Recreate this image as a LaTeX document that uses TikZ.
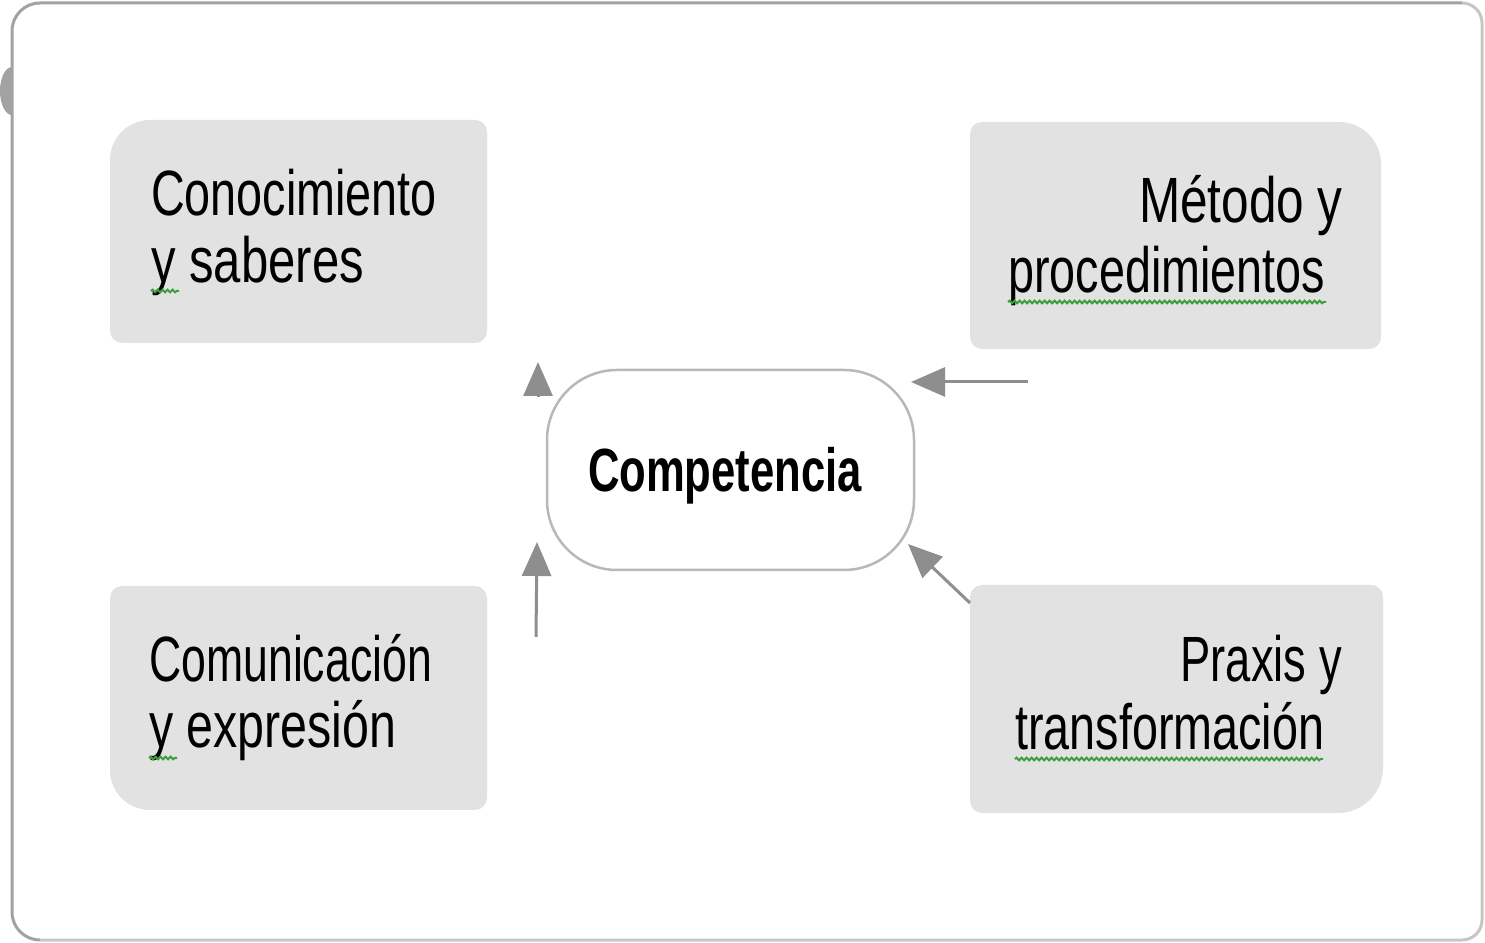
\documentclass[tikz,border=0pt]{standalone}
\usepackage{fontspec}
\setmainfont{Liberation Sans}
\newfontfamily\narrowfont[FakeStretch=0.73]{Liberation Sans}
\newfontfamily\narrowbold[FakeStretch=0.715]{Liberation Sans Bold}
\usetikzlibrary{arrows.meta,decorations.pathmorphing}
\definecolor{boxfill}{HTML}{E2E2E2}
\definecolor{framedark}{HTML}{A2A2A2}
\definecolor{framelight}{HTML}{C6C6C6}
\definecolor{arrowgray}{HTML}{8E8E8E}
\definecolor{centerborder}{HTML}{B8B8B8}
\definecolor{squiggle}{HTML}{3E9E3E}
% #1 x-left, #2 y-bottom, #3 x-right, #4 y-top, #5 rTL, #6 rTR, #7 rBR, #8 rBL
\newcommand\quadboxpath[8]{(#1,#2+#8) -- (#1,#4-#5) arc[start angle=180,end angle=90,radius=#5] -- (#3-#6,#4) arc[start angle=90,end angle=0,radius=#6] -- (#3,#2+#7) arc[start angle=0,end angle=-90,radius=#7] -- (#1+#8,#2) arc[start angle=270,end angle=180,radius=#8] -- cycle}
\tikzset{
  boxlabel/.style={inner sep=0pt,font=\narrowfont\fontsize{64}{70}\selectfont,text=black},
  arrowline/.style={draw=arrowgray,line width=3pt,-{Triangle[length=34pt,width=29pt]}},
  wavy/.style={draw=squiggle,line width=2pt,decorate,decoration={snake,amplitude=1.3pt,segment length=5pt}},
}
\begin{document}
\begin{tikzpicture}[x=1pt,y=1pt]
\useasboundingbox (0,0) rectangle (1485,942);
% outer frame
\draw[framedark,line width=3pt] (40,2) arc[start angle=270,end angle=180,radius=28] -- (12,911) arc[start angle=180,end angle=90,radius=28] -- (1462,939);
\draw[framelight,line width=3pt] (1462,939) arc[start angle=90,end angle=0,radius=20] -- (1482,22) arc[start angle=0,end angle=-90,radius=20] -- (40,2);
\fill[framedark] (12,875) arc[start angle=90,end angle=270,x radius=12,y radius=24] -- cycle;
% four boxes
\fill[boxfill] \quadboxpath{110}{599}{487}{822}{40}{12}{12}{12};
\fill[boxfill] \quadboxpath{970}{593}{1381}{820}{12}{42}{12}{12};
\fill[boxfill] \quadboxpath{110}{132}{487}{356}{12}{12}{12}{40};
\fill[boxfill] \quadboxpath{970}{129}{1383}{357}{12}{12}{45}{12};
% texts
\node[boxlabel,anchor=base west] (conoc1) at (151,726) {Conocimiento};
\node[boxlabel,anchor=base west] (conoc2) at (151,659) {\scalebox{1.05}[1]{y saberes}};
\node[boxlabel,anchor=base east] (metodo1) at (1343,719) {\scalebox{1.06}[1]{Método y}};
\node[boxlabel,anchor=base west] (metodo2) at (1008,649) {procedimientos};
\node[boxlabel,anchor=base west] (comun1) at (149,260) {\scalebox{0.955}[1]{Comunicación}};
\node[boxlabel,anchor=base west] (comun2) at (149,194) {\scalebox{1.035}[1]{y expresión}};
\node[boxlabel,anchor=base east] (praxis1) at (1342,260) {\scalebox{0.97}[1]{Praxis y}};
\node[boxlabel,anchor=base west] (praxis2) at (1015,192) {transformación};
% spell-check squiggles
\draw[wavy] ([yshift=-8pt]conoc2.base west) -- ++(28,0);
\draw[wavy] ([yshift=-9pt]metodo2.base west) -- ++(318,0);
\draw[wavy] ([yshift=-10pt]comun2.base west) -- ++(28,0);
\draw[wavy] ([yshift=-9pt]praxis2.base west) -- ++(308,0);
% center
\node[draw=centerborder,line width=2.5pt,fill=white,rounded corners=70pt,minimum width=367pt,minimum height=200pt,inner sep=0pt] (comp) at (730.5,472) {};
\node[inner sep=0pt,anchor=base,font=\narrowbold\fontsize{61}{70}\selectfont] (comptxt) at (725,450) {Competencia};
% arrows
\coordinate (a1s) at (538,545);
\coordinate (a1e) at (538,580);
\coordinate (a2s) at (1028,560);
\coordinate (a2e) at (911,560);
\coordinate (a3s) at (536,305);
\coordinate (a3e) at (537,400);
\coordinate (a4s) at (970,339);
\coordinate (a4e) at (908,398);
\draw[arrowline] (a1s) -- (a1e);
\draw[arrowline] (a2s) -- (a2e);
\draw[arrowline] (a3s) -- (a3e);
\draw[arrowline] (a4s) -- (a4e);
\end{tikzpicture}
\end{document}
